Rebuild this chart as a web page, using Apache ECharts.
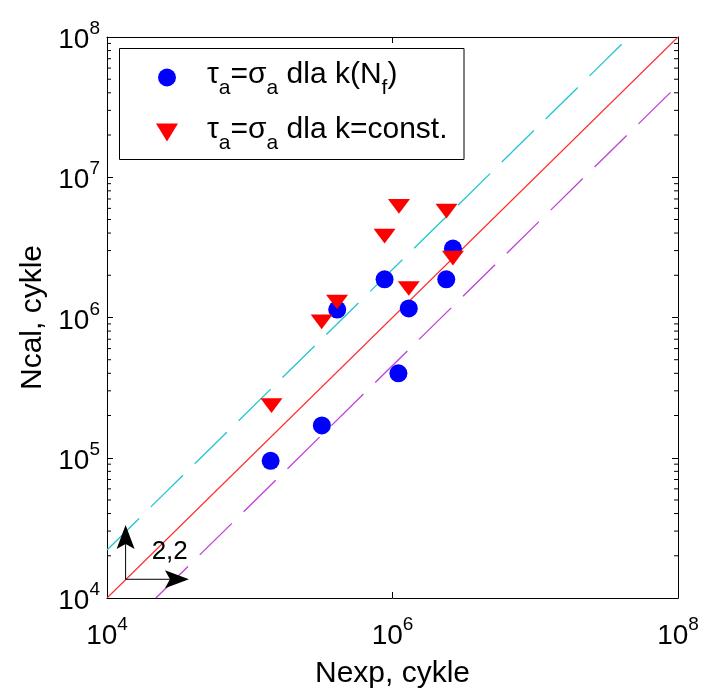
<!DOCTYPE html>
<html><head><meta charset="utf-8">
<script src="https://cdn.jsdelivr.net/npm/echarts@6/dist/echarts.min.js"></script>
<style>html,body{margin:0;padding:0;background:#fff}#c{width:702px;height:694px}</style>
</head><body><div id="c"></div>
<script>
// ---- data ----
const nexpK = [1.40e5, 3.2e5, 4.1e5, 8.8e5, 1.30e6, 1.10e6, 2.38e6, 2.65e6];
const ncalK = [9.5e4, 1.70e5, 1.14e6, 1.87e6, 1.16e6, 4.0e5, 1.87e6, 3.10e6];
const nexpC = [1.42e5, 3.19e5, 4.09e5, 8.8e5, 1.11e6, 1.30e6, 2.39e6, 2.65e6];
const ncalC = [2.35e5, 9.3e5, 1.29e6, 3.80e6, 6.2e6, 1.61e6, 5.73e6, 2.65e6];
const lineEqX = [1e4, 1e8];
const lineEqY = [1e4, 1e8];
const lineUpX = [1e4, 4.545e7];
const lineUpY = [2.2e4, 1e8];
const lineLoX = [2.2e4, 1e8];
const lineLoY = [1e4, 4.545e7];
const minorYTicks = [2e4,3e4,4e4,5e4,6e4,7e4,8e4,9e4,2e5,3e5,4e5,5e5,6e5,7e5,8e5,9e5,
  2e6,3e6,4e6,5e6,6e6,7e6,8e6,9e6,2e7,3e7,4e7,5e7,6e7,7e7,8e7,9e7];
const arrowOrigin = [1.35e4, 1.36e4];
const arrowUpTip = 3.31e4;
const arrowRightTip = 3.75e4;
const annotPos = [2.75e4, 2.12e4];
const annotText = '2,2';
const nameK = 'τa=σa dla k(Nf)';
const nameC = 'τa=σa dla k=const.';
const AXIS_MIN = 1e4, AXIS_MAX = 1e8;

const FONT = 'Liberation Sans';
const chart = echarts.init(document.getElementById('c'), null, {renderer: 'canvas'});

function supLabel(v) {
  const e = Math.round(Math.log10(v));
  return '{b|10}{s|' + e + '}';
}
const richSup = {
  b: {fontSize: 28, fontFamily: FONT, color: '#000', verticalAlign: 'bottom'},
  s: {fontSize: 19, fontFamily: FONT, color: '#000', verticalAlign: 'top', padding: [0, 0, 16, 0]}
};
const legendRich = {
  g: {width: 24, fontSize: 28},
  t: {fontSize: 30, fontFamily: FONT, color: '#000', verticalAlign: 'top', padding: [4, 0, 0, 0]},
  u: {fontSize: 21, fontFamily: FONT, color: '#000', verticalAlign: 'top', padding: [22, 0, 0, 0]}
};
const legendFmt = {};
legendFmt[nameK] = '{g| }{t|τ}{u|a}{t|=σ}{u|a}{t| dla k(N}{u|f}{t|)}';
legendFmt[nameC] = '{g| }{t|τ}{u|a}{t|=σ}{u|a}{t| dla k=const.}';

const baseAxis = {
  type: 'log', logBase: 10, min: AXIS_MIN, max: AXIS_MAX,
  axisLine: {show: true, onZero: false, lineStyle: {color: '#000', width: 1}},
  splitLine: {show: false},
  minorTick: {show: false}
};

const option = {
  backgroundColor: '#fff',
  animation: false,
  textStyle: {fontFamily: FONT},
  grid: {left: 107, top: 37, right: 24, bottom: 88, containLabel: false},
  xAxis: [
    Object.assign({}, baseAxis, {
      position: 'bottom', interval: 2,
      axisTick: {show: true, inside: true, length: 6, lineStyle: {color: '#000'}},
      axisLabel: {show: true, margin: 17, formatter: supLabel, rich: richSup},
      name: 'Nexp, cykle', nameLocation: 'middle', nameGap: 61,
      nameTextStyle: {fontSize: 30, fontFamily: FONT, color: '#000'}
    }),
    Object.assign({}, baseAxis, {
      position: 'top', interval: 2,
      axisTick: {show: true, inside: true, length: 6, lineStyle: {color: '#000'}},
      axisLabel: {show: false}
    })
  ],
  yAxis: [
    Object.assign({}, baseAxis, {
      position: 'left', interval: 1,
      axisTick: {show: true, inside: true, length: 6, lineStyle: {color: '#000'}},
      axisLabel: {show: true, margin: 7, formatter: supLabel, rich: richSup},
      name: 'Ncal, cykle', nameLocation: 'middle', nameGap: 59,
      nameTextStyle: {fontSize: 30, fontFamily: FONT, color: '#000'}
    }),
    Object.assign({}, baseAxis, {
      position: 'right', interval: 1,
      axisTick: {show: true, inside: true, length: 6, lineStyle: {color: '#000'}},
      axisLabel: {show: false}
    })
  ],
  legend: {
    left: 156, top: 60, orient: 'vertical', padding: 0,
    itemWidth: 22, itemHeight: 18, itemGap: 16,
    data: [nameK, nameC],
    formatter: function (n) { return legendFmt[n]; },
    textStyle: {rich: legendRich, fontFamily: FONT, fontSize: 30},
    selectedMode: false
  },
  graphic: [{
    type: 'rect', z: 1, silent: true,
    shape: {x: 119.5, y: 48.5, width: 344.5, height: 111},
    style: {fill: '#fff', stroke: '#000', lineWidth: 1}
  }],
  series: [
    {
      type: 'line', name: 'eq', silent: true, showSymbol: false, symbol: 'none', z: 2,
      data: lineEqX.map((x, i) => [x, lineEqY[i]]),
      lineStyle: {color: '#ff2a2a', width: 1.1}
    },
    {
      type: 'line', name: 'up', silent: true, showSymbol: false, symbol: 'none', z: 2,
      data: lineUpX.map((x, i) => [x, lineUpY[i]]),
      lineStyle: {color: '#22c6d0', width: 1.3, type: [45, 16.5]}
    },
    {
      type: 'line', name: 'lo', silent: true, showSymbol: false, symbol: 'none', z: 2,
      data: lineLoX.map((x, i) => [x, lineLoY[i]]),
      lineStyle: {color: '#c040d6', width: 1.3, type: [45, 16.5]}
    },
    {
      type: 'custom', name: 'minorTicks', silent: true, z: 3,
      data: minorYTicks.map(v => [AXIS_MIN, v]),
      encode: {x: 0, y: 1},
      clip: false,
      renderItem: function (params, api) {
        const v = api.value(1);
        const pL = api.coord([AXIS_MIN, v]);
        const pR = api.coord([AXIS_MAX, v]);
        return {type: 'group', children: [
          {type: 'line', shape: {x1: pL[0], y1: pL[1], x2: pL[0] + 4, y2: pL[1]}, style: {stroke: '#000', lineWidth: 1}},
          {type: 'line', shape: {x1: pR[0], y1: pR[1], x2: pR[0] - 4, y2: pR[1]}, style: {stroke: '#000', lineWidth: 1}}
        ]};
      }
    },
    {
      type: 'scatter', name: nameK, z: 4,
      symbol: 'circle', symbolSize: 18, symbolKeepAspect: true,
      itemStyle: {color: '#0000ff', opacity: 1},
      data: nexpK.map((x, i) => [x, ncalK[i]])
    },
    {
      type: 'scatter', name: nameC, z: 5,
      symbol: 'path://M0,0L22,0L11,18Z', symbolSize: [22, 18], symbolKeepAspect: true,
      itemStyle: {color: '#ff0000', opacity: 1},
      data: nexpC.map((x, i) => [x, ncalC[i]])
    },
    {
      type: 'custom', name: 'annot', silent: true, z: 6, clip: false,
      data: [arrowOrigin],
      encode: {x: 0, y: 1},
      renderItem: function (params, api) {
        const o = api.coord(arrowOrigin);
        const up = api.coord([arrowOrigin[0], arrowUpTip]);
        const rt = api.coord([arrowRightTip, arrowOrigin[1]]);
        const tp = api.coord(annotPos);
        const L = 24, W = 9, N = 5;
        return {type: 'group', children: [
          {type: 'line', shape: {x1: o[0], y1: o[1], x2: o[0], y2: up[1] + L - N}, style: {stroke: '#000', lineWidth: 1}},
          {type: 'line', shape: {x1: o[0], y1: o[1], x2: rt[0] - L + N, y2: o[1]}, style: {stroke: '#000', lineWidth: 1}},
          {type: 'polygon', shape: {points: [[up[0], up[1]], [up[0] + W, up[1] + L], [up[0], up[1] + L - N], [up[0] - W, up[1] + L]]}, style: {fill: '#000'}},
          {type: 'polygon', shape: {points: [[rt[0], rt[1]], [rt[0] - L, rt[1] - W], [rt[0] - L + N, rt[1]], [rt[0] - L, rt[1] + W]]}, style: {fill: '#000'}},
          {type: 'text', x: tp[0], y: tp[1], style: {text: annotText, fontSize: 26, fontFamily: FONT, fill: '#000', align: 'center', verticalAlign: 'middle'}}
        ]};
      }
    }
  ]
};
chart.setOption(option);
</script>
</body></html>
